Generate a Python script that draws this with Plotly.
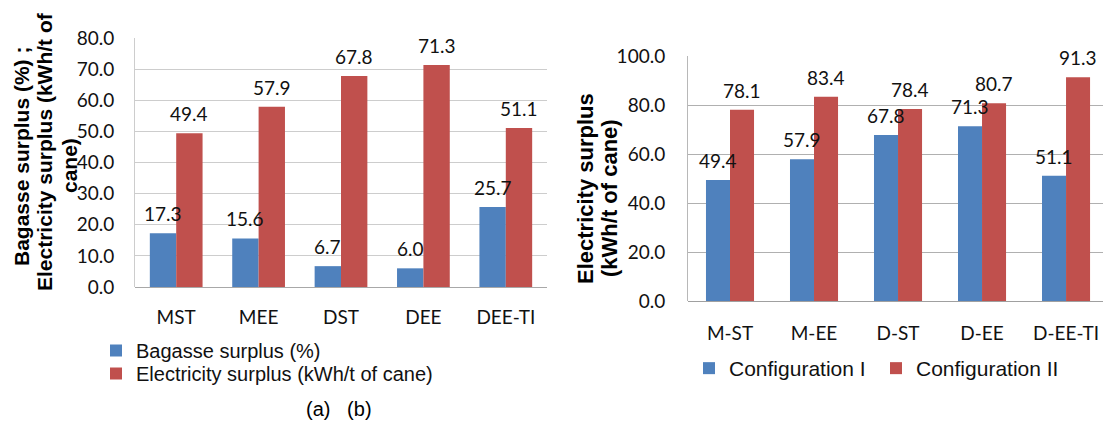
import plotly.graph_objects as go

# Panel (a): bagasse and electricity surplus per configuration
cats_a = ["MST", "MEE", "DST", "DEE", "DEE-TI"]
bagasse_surplus = [17.3, 15.6, 6.7, 6.0, 25.7]
electricity_surplus = [49.4, 57.9, 67.8, 71.3, 51.1]

# Panel (b): electricity surplus for the two configurations
cats_b = ["M-ST", "M-EE", "D-ST", "D-EE", "D-EE-TI"]
config_1 = [49.4, 57.9, 67.8, 71.3, 51.1]
config_2 = [78.1, 83.4, 78.4, 80.7, 91.3]

ticks_a = [0, 10, 20, 30, 40, 50, 60, 70, 80]
ticks_b = [0, 20, 40, 60, 80, 100]

BLUE = "#4F81BD"
RED = "#C0504D"
W, H = 1103, 422
NUM_FONT = "Lato, Open Sans, sans-serif"
TXT_FONT = "Liberation Sans, Arial, sans-serif"

wa = 0.32   # bar width, panel (a)
wb = 0.286  # bar width, panel (b)

fig = go.Figure()
idx_a = list(range(len(cats_a)))
idx_b = list(range(len(cats_b)))

fig.add_trace(go.Bar(x=idx_a, y=bagasse_surplus, width=wa, offset=-wa,
                     marker=dict(color=BLUE, line=dict(width=0)),
                     name="Bagasse surplus (%)", xaxis="x", yaxis="y", legend="legend"))
fig.add_trace(go.Bar(x=idx_a, y=electricity_surplus, width=wa, offset=0,
                     marker=dict(color=RED, line=dict(width=0)),
                     name="Electricity surplus (kWh/t of cane)", xaxis="x", yaxis="y", legend="legend3"))
fig.add_trace(go.Bar(x=idx_b, y=config_1, width=wb, offset=-wb,
                     marker=dict(color=BLUE, line=dict(width=0)),
                     name="Configuration I", xaxis="x2", yaxis="y2", legend="legend2"))
fig.add_trace(go.Bar(x=idx_b, y=config_2, width=wb, offset=0,
                     marker=dict(color=RED, line=dict(width=0)),
                     name="Configuration II", xaxis="x2", yaxis="y2", legend="legend2"))

annotations = []

def value_labels(idx, vals, shift, xref, yref):
    for i, v in zip(idx, vals):
        annotations.append(dict(x=i + shift, y=v, xref=xref, yref=yref, text=f"{v:.1f}",
                                showarrow=False, yanchor="bottom", xanchor="center", yshift=6,
                                font=dict(family=NUM_FONT, size=19, color="#111111")))

value_labels(idx_a, bagasse_surplus, -wa / 2, "x", "y")
value_labels(idx_a, electricity_surplus, wa / 2, "x", "y")
value_labels(idx_b, config_1, -wb / 2, "x2", "y2")
value_labels(idx_b, config_2, wb / 2, "x2", "y2")

def title_line(text, px, py, size):
    annotations.append(dict(x=px / W, y=1 - py / H, xref="paper", yref="paper", text=text,
                            textangle=-90, showarrow=False, xanchor="center", yanchor="middle",
                            font=dict(family=TXT_FONT, size=size, color="#000000", weight="bold")))

title_line("Bagasse surplus (%) ;", 21, 157, 21)
title_line("Electricity surplus (kWh/t of", 45, 152, 21)
title_line("cane)", 70, 166, 21)
title_line("Electricity surplus", 585, 189, 22)
title_line("(kWh/t of cane)", 609, 198, 22)

annotations.append(dict(x=339 / W, y=1 - 409 / H, xref="paper", yref="paper",
                        text="(a)\u00a0\u00a0\u00a0(b)", showarrow=False,
                        xanchor="center", yanchor="middle",
                        font=dict(family=TXT_FONT, size=20, color="#000000")))

axis_font = dict(family=NUM_FONT, size=19, color="#111111")

fig.update_layout(
    width=W, height=H,
    margin=dict(l=0, r=0, t=0, b=0, autoexpand=False),
    paper_bgcolor="white", plot_bgcolor="white",
    barmode="overlay",
    showlegend=True,
    xaxis=dict(domain=[135 / W, 547 / W], range=[-0.5, 4.5], tickvals=idx_a, ticktext=cats_a,
               showgrid=False, zeroline=False, showline=False, ticks="", automargin=False,
               tickfont=axis_font, ticklabelstandoff=17, anchor="y", fixedrange=True),
    yaxis=dict(domain=[1 - 287 / H, 1 - 38 / H], range=[0, 80], tickvals=ticks_a,
               tickformat=".1f", showgrid=True, gridcolor="#cdcdcd", gridwidth=1,
               zeroline=True, zerolinecolor="#a8a8a8", zerolinewidth=1, automargin=False,
               showline=True, linecolor="#cdcdcd", linewidth=1, ticks="",
               tickfont=axis_font, ticklabelstandoff=16, anchor="x"),
    xaxis2=dict(domain=[688 / W, 1.0], range=[-0.5, 4.44], tickvals=idx_b, ticktext=cats_b,
                showgrid=False, zeroline=False, showline=False, ticks="", automargin=False,
                tickfont=axis_font, ticklabelstandoff=19, anchor="y2"),
    yaxis2=dict(domain=[1 - 301 / H, 1 - 56 / H], range=[0, 100], tickvals=ticks_b,
                tickformat=".1f", showgrid=True, gridcolor="#b0b0b0", gridwidth=1,
                zeroline=True, zerolinecolor="#a0a0a0", zerolinewidth=1, automargin=False,
                showline=True, linecolor="#b8b8b8", linewidth=1, ticks="",
                tickfont=axis_font, ticklabelstandoff=18, anchor="x2"),
    legend=dict(x=96 / W, y=1 - 331 / H, xanchor="left", yanchor="top",
                orientation="v", bgcolor="rgba(0,0,0,0)",
                font=dict(family=TXT_FONT, size=20, color="#111111")),
    legend3=dict(x=96 / W, y=1 - 354 / H, xanchor="left", yanchor="top",
                 orientation="v", bgcolor="rgba(0,0,0,0)",
                 font=dict(family=TXT_FONT, size=20, color="#111111")),
    legend2=dict(x=689 / W, y=1 - 348 / H, xanchor="left", yanchor="top",
                 orientation="h", traceorder="normal", bgcolor="rgba(0,0,0,0)",
                 entrywidth=142, entrywidthmode="pixels",
                 font=dict(family=TXT_FONT, size=21, color="#111111")),
    annotations=annotations,
)

fig.write_html("out.html")
